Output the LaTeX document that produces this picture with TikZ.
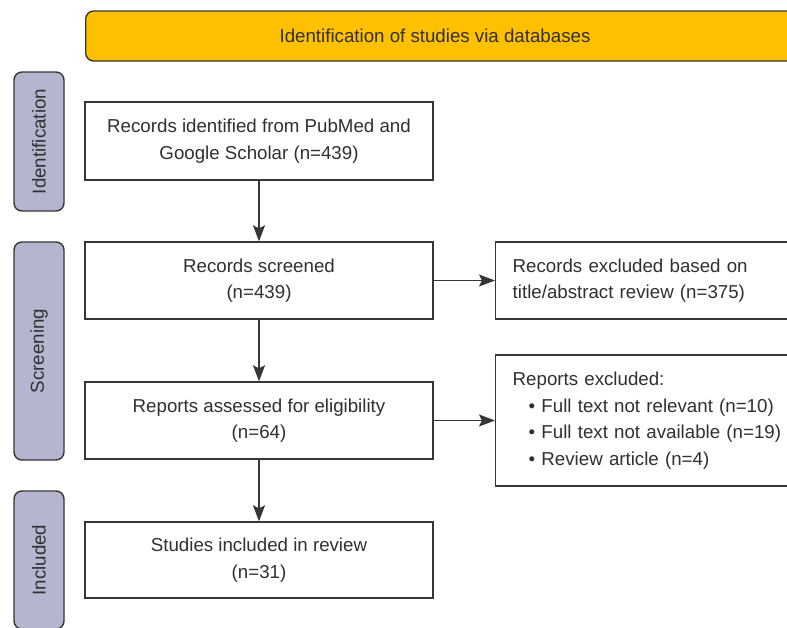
\documentclass[tikz,border=0pt]{standalone}
\usepackage{fontspec}
\setmainfont{Liberation Sans}
\usetikzlibrary{arrows.meta}
\definecolor{banneryellow}{HTML}{FFC000}
\definecolor{phasegray}{HTML}{B4B6CF}
\definecolor{linegray}{HTML}{363636}
\definecolor{textgray}{HTML}{303030}
\begin{document}
\begin{tikzpicture}[x=1pt,y=-1pt,
  every node/.style={font=\fontsize{18.7}{26.5}\selectfont, text=textgray},
  flowbox/.style={draw=linegray, line width=1.4pt, fill=white, minimum width=348pt, align=center, inner sep=0pt},
  sidebox/.style={draw=linegray, line width=1.4pt, fill=phasegray, rounded corners=8pt, minimum width=50pt, inner sep=0pt},
  rightbox/.style={draw=linegray, line width=1.4pt, fill=white, anchor=west, minimum width=310pt, text width=276pt, inner xsep=17pt, inner ysep=0pt, align=left},
  flowarrow/.style={draw=linegray, line width=1.4pt, -{Stealth[length=16pt,width=12pt,inset=3pt]}}
]
\clip (0,0) rectangle (787,627);
\fill[white] (0,0) rectangle (787,627);

% banner
\node[draw=linegray, line width=1.4pt, fill=banneryellow, rounded corners=8pt, minimum width=720pt, minimum height=50pt, inner sep=0pt, anchor=west] (banner) at (85,36) {};
\node (bannertext) at (435,36) {Identification of studies via databases};

% phase labels
\node[sidebox, minimum height=139pt] (idlab) at (39,141.5) {};
\node[rotate=90] (idtext) at (39,141.5) {Identification};
\node[sidebox, minimum height=218pt] (scrlab) at (39,351) {};
\node[rotate=90] (scrtext) at (39,351) {Screening};
\node[sidebox, minimum height=138pt] (inclab) at (39,560) {};
\node[rotate=90] (inctext) at (39,560) {Included};

% main boxes
\node[flowbox, minimum height=78pt] (ident) at (259,141) {Records identified from PubMed and\\Google Scholar (n=439)};
\node[flowbox, minimum height=77pt] (screen) at (259,280.5) {Records screened\\(n=439)};
\node[flowbox, minimum height=77pt] (assess) at (259,420.5) {Reports assessed for eligibility\\(n=64)};
\node[flowbox, minimum height=76pt] (incl) at (259,560) {Studies included in review\\(n=31)};

% right boxes
\node[rightbox, minimum height=77pt] (excl1) at (495,280.5) {Records excluded based on\\title/abstract review (n=375)};
\node[rightbox, minimum height=131pt] (excl2) at (495,420.5) {Reports excluded:\\
\hspace*{16pt}\textbullet\ Full text not relevant (n=10)\\
\hspace*{16pt}\textbullet\ Full text not available (n=19)\\
\hspace*{16pt}\textbullet\ Review article (n=4)};

% arrows
\draw[flowarrow] (ident) -- (screen);
\draw[flowarrow] (screen) -- (assess);
\draw[flowarrow] (assess) -- (incl);
\draw[flowarrow] (screen.east) -- (excl1.west);
\draw[flowarrow] (assess.east) -- (excl2.west);
\end{tikzpicture}
\end{document}
